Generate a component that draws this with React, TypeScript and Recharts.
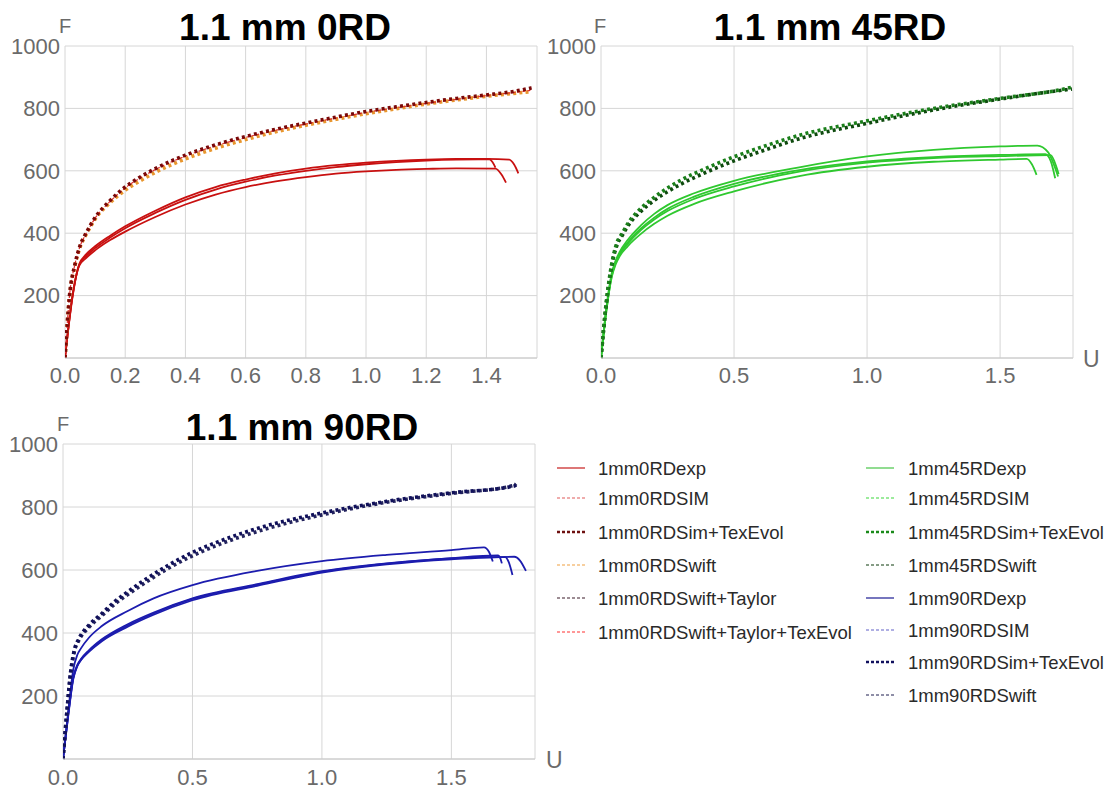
import React from "react";
import { LineChart, Line, XAxis, YAxis, CartesianGrid } from "recharts";

// ---- 1.1 mm 0RD ----
const u0A = [0, 0.025, 0.047, 0.07, 0.1, 0.15, 0.2, 0.3, 0.4, 0.5, 0.6, 0.7, 0.8, 0.9, 1.0, 1.1, 1.2, 1.3, 1.4, 1.476, 1.492, 1.506];
const f0A = [0, 200, 300, 332, 358, 392, 422, 472, 515, 548, 572, 592, 607, 618, 626, 632, 636, 638, 638, 636, 620, 592];
const u0B = [0, 0.025, 0.047, 0.07, 0.1, 0.15, 0.2, 0.3, 0.4, 0.5, 0.6, 0.7, 0.8, 0.9, 1.0, 1.1, 1.2, 1.3, 1.41, 1.42, 1.43];
const f0B = [0, 195, 298, 326, 352, 386, 416, 465, 507, 540, 565, 585, 600, 612, 621, 628, 633, 636, 637, 628, 610];
const u0C = [0, 0.025, 0.047, 0.07, 0.1, 0.15, 0.2, 0.3, 0.4, 0.5, 0.6, 0.7, 0.8, 0.9, 1.0, 1.1, 1.2, 1.3, 1.43, 1.45, 1.465];
const f0C = [0, 200, 295, 320, 345, 378, 405, 452, 492, 524, 548, 566, 580, 591, 598, 603, 606, 608, 607, 588, 562];
const u0S = [0, 0.015, 0.033, 0.05, 0.07, 0.1, 0.15, 0.2, 0.25, 0.3, 0.4, 0.5, 0.6, 0.7, 0.8, 0.9, 1.0, 1.1, 1.2, 1.3, 1.4, 1.5, 1.55];
const f0Sim = [0, 200, 300, 358, 398, 448, 502, 545, 577, 604, 647, 680, 707, 730, 750, 769, 787, 802, 816, 829, 841, 852, 858];
const f0TexEvol = [0, 200, 300, 360, 400, 450, 505, 548, 580, 607, 650, 683, 710, 733, 753, 772, 790, 805, 819, 832, 843, 856, 866];
const f0Swift = [0, 195, 295, 355, 395, 445, 498, 538, 568, 595, 638, 672, 700, 725, 746, 765, 783, 799, 814, 827, 839, 849, 854];

// ---- 1.1 mm 45RD ----
const u45Head = [0, 0.02, 0.04, 0.055, 0.07, 0.1, 0.15, 0.2, 0.25, 0.35, 0.5, 0.75, 1.0, 1.25, 1.5];
const u45A = [...u45Head, 1.64, 1.68, 1.718];
const f45A = [0, 160, 270, 312, 340, 378, 425, 462, 490, 528, 568, 612, 646, 667, 678, 681, 660, 582];
const u45B = [...u45Head, 1.67, 1.69, 1.707];
const f45B = [0, 155, 265, 308, 335, 370, 415, 450, 478, 517, 558, 603, 630, 644, 651, 653, 632, 576];
const u45C = [...u45Head, 1.69, 1.705, 1.72];
const f45C = [0, 150, 262, 305, 332, 366, 410, 444, 471, 510, 550, 598, 626, 641, 647, 650, 628, 590];
const u45D = [...u45Head, 1.6, 1.62, 1.637];
const f45D = [0, 150, 258, 300, 326, 358, 398, 430, 456, 494, 534, 584, 613, 629, 636, 638, 620, 587];
const u45S = [0, 0.02, 0.04, 0.06, 0.08, 0.1, 0.15, 0.2, 0.25, 0.3, 0.4, 0.5, 0.6, 0.75, 1.0, 1.25, 1.5, 1.75, 1.77];
const f45TexEvol = [0, 180, 300, 370, 400, 430, 480, 515, 545, 570, 610, 645, 675, 715, 760, 800, 832, 864, 868];
const f45Swift = [0, 175, 295, 362, 393, 422, 470, 505, 533, 557, 597, 632, 662, 704, 752, 795, 830, 860, 862];

// ---- 1.1 mm 90RD ----
const u90Head = [0, 0.02, 0.04, 0.055, 0.07, 0.1, 0.15, 0.25, 0.35, 0.5, 0.75, 1.0, 1.25, 1.5];
const u90A = [...u90Head, 1.626, 1.645, 1.66];
const f90A = [0, 150, 285, 330, 352, 385, 422, 470, 510, 552, 597, 628, 648, 663, 672, 658, 627];
const u90B = [...u90Head, 1.708, 1.722, 1.736];
const f90B = [0, 140, 260, 298, 318, 345, 380, 428, 465, 510, 555, 596, 621, 637, 641, 624, 584];
const u90C = [...u90Head, 1.743, 1.765, 1.788];
const f90C = [0, 135, 255, 294, 314, 340, 374, 420, 458, 504, 550, 592, 618, 634, 642, 630, 597];
const u90D = [...u90Head, 1.68, 1.69, 1.695];
const f90D = [0, 140, 258, 296, 316, 343, 377, 424, 462, 508, 553, 594, 620, 638, 646, 635, 621];
const u90S = [0, 0.015, 0.03, 0.045, 0.06, 0.1, 0.15, 0.2, 0.25, 0.3, 0.4, 0.5, 0.6, 0.75, 1.0, 1.25, 1.5, 1.74, 1.75];
const f90TexEvol = [0, 150, 280, 350, 380, 425, 462, 500, 531, 560, 612, 656, 690, 732, 781, 818, 845, 866, 870];
const f90Swift = [0, 148, 275, 345, 375, 418, 455, 492, 522, 550, 602, 645, 680, 722, 775, 815, 843, 868, 874];

// axes
const yTicks = [0, 200, 400, 600, 800, 1000];
const xTicks0 = [0, 0.2, 0.4, 0.6, 0.8, 1.0, 1.2, 1.4];
const xTicksHalf = [0, 0.5, 1.0, 1.5];

const legendLeft = ["1mm0RDexp", "1mm0RDSIM", "1mm0RDSim+TexEvol", "1mm0RDSwift", "1mm0RDSwift+Taylor", "1mm0RDSwift+Taylor+TexEvol"];
const legendRight = ["1mm45RDexp", "1mm45RDSIM", "1mm45RDSim+TexEvol", "1mm45RDSwift", "1mm90RDexp", "1mm90RDSIM", "1mm90RDSim+TexEvol", "1mm90RDSwift"];

const RED = "#c81010";
const GREEN = "#2fc82f";
const BLUE = "#1c1cae";
const GRID = "#d6d6d6";
const TICK = "#6a6a6a";
const FONT = "'Liberation Sans', Arial, sans-serif";

type Style = { color: string; width: number; dash?: string };
type Series = { name: string; u: number[]; f: number[]; style: Style };

const EXP = (c: string): Style => ({ color: c, width: 1.8 });
const THIN = (c: string): Style => ({ color: c, width: 1.2, dash: "3 2" });
const THICK = (c: string): Style => ({ color: c, width: 3.6, dash: "3 3.2" });

const pts = (u: number[], f: number[]) => u.map((x, i) => ({ u: x, F: f[i] }));

const panel0: Series[] = [
  { name: "0A", u: u0A, f: f0A, style: EXP(RED) },
  { name: "0B", u: u0B, f: f0B, style: EXP(RED) },
  { name: "0C", u: u0C, f: f0C, style: EXP(RED) },
  { name: "0Swift", u: u0S, f: f0Swift, style: THICK("#e8962e") },
  { name: "0Sim", u: u0S, f: f0Sim, style: THIN("#e03030") },
  { name: "0TexEvol", u: u0S, f: f0TexEvol, style: THICK("#7a0808") },
];
const panel45: Series[] = [
  { name: "45A", u: u45A, f: f45A, style: EXP(GREEN) },
  { name: "45B", u: u45B, f: f45B, style: EXP(GREEN) },
  { name: "45C", u: u45C, f: f45C, style: EXP(GREEN) },
  { name: "45D", u: u45D, f: f45D, style: EXP(GREEN) },
  { name: "45Swift", u: u45S, f: f45Swift, style: THICK("#0e4a0e") },
  { name: "45TexEvol", u: u45S, f: f45TexEvol, style: THICK("#1a7f1a") },
];
const panel90: Series[] = [
  { name: "90A", u: u90A, f: f90A, style: EXP(BLUE) },
  { name: "90B", u: u90B, f: f90B, style: EXP(BLUE) },
  { name: "90C", u: u90C, f: f90C, style: EXP(BLUE) },
  { name: "90D", u: u90D, f: f90D, style: EXP(BLUE) },
  { name: "90Swift", u: u90S, f: f90Swift, style: THICK("#24245e") },
  { name: "90TexEvol", u: u90S, f: f90TexEvol, style: THICK("#10105a") },
];

const legendStyles: Style[] = [
  { color: "#d24a4a", width: 1.5 },
  THIN("#e05a5a"),
  { color: "#6e1010", width: 2.4, dash: "3 2" },
  THIN("#f0a040"),
  THIN("#3a1a28"),
  THIN("#ff3030"),
];
const legendStylesRight: Style[] = [
  { color: "#6cd06c", width: 1.5 },
  THIN("#3ad83a"),
  { color: "#1a8a1a", width: 2.4, dash: "3 2" },
  THIN("#0d3a0d"),
  { color: "#4848a8", width: 1.5 },
  THIN("#6060c8"),
  { color: "#10105e", width: 2.4, dash: "3 2" },
  THIN("#1e1e50"),
];
const rowsLeft = [468, 498, 532, 565, 598, 632];
const rowsRight = [468, 498, 532, 565, 598, 630, 662, 695];

function Panel(props: {
  left: number;
  top: number;
  height: number;
  yWidth: number;
  xMax: number;
  xTicks: number[];
  series: Series[];
  tickGap: number;
}) {
  const { left, top, height, yWidth, xMax, xTicks, series, tickGap } = props;
  return (
    <div style={{ position: "absolute", left, top }}>
      <LineChart width={yWidth + 480} height={height} margin={{ top: 46, right: 8, bottom: 0, left: 0 }}>
        <CartesianGrid stroke={GRID} strokeWidth={1} />
        <XAxis
          type="number"
          dataKey="u"
          domain={[0, xMax]}
          ticks={xTicks}
          allowDataOverflow
          height={30}
          tickLine={false}
          tickSize={6}
          tickMargin={tickGap}
          axisLine={{ stroke: "#c8c8c8" }}
          tick={{ fill: TICK, fontSize: 22, fontFamily: FONT }}
          tickFormatter={(v: number) => v.toFixed(1)}
        />
        <YAxis
          type="number"
          dataKey="F"
          domain={[0, 1000]}
          ticks={yTicks}
          width={yWidth}
          tickLine={false}
          axisLine={false}
          tickSize={0}
          tickMargin={5}
          tick={{ fill: TICK, fontSize: 22, fontFamily: FONT }}
          tickFormatter={(v: number) => (v === 0 ? "" : String(v))}
        />
        {series.map((s) => (
          <Line
            key={s.name}
            data={pts(s.u, s.f)}
            dataKey="F"
            type="monotone"
            stroke={s.style.color}
            strokeWidth={s.style.width}
            strokeDasharray={s.style.dash}
            dot={false}
            activeDot={false}
            isAnimationActive={false}
          />
        ))}
      </LineChart>
    </div>
  );
}

export default function App() {
  return (
    <div
      style={{
        position: "absolute",
        left: 0,
        top: 0,
        width: 1112,
        height: 789,
        overflow: "hidden",
        background: "#fff",
      }}
    >
      <Panel left={0} top={0} height={388} yWidth={65} xMax={1.568} xTicks={xTicks0} series={panel0} tickGap={3} />
      <Panel left={536} top={0} height={388} yWidth={65} xMax={1.774} xTicks={xTicksHalf} series={panel45} tickGap={3} />
      <Panel left={0} top={398} height={391} yWidth={63} xMax={1.823} xTicks={xTicksHalf} series={panel90} tickGap={4} />

      <svg width={1112} height={789} style={{ position: "absolute", left: 0, top: 0, pointerEvents: "none" }}>
        <g fontFamily={FONT} fontWeight="bold" fontSize={37} fill="#000" textAnchor="middle">
          <text x={285} y={40}>1.1 mm 0RD</text>
          <text x={830} y={40}>1.1 mm 45RD</text>
          <text x={302} y={440}>1.1 mm 90RD</text>
        </g>
        <g fontFamily={FONT} fill={TICK}>
          <text x={59} y={33} fontSize={20}>F</text>
          <text x={594} y={33} fontSize={20}>F</text>
          <text x={57} y={431} fontSize={20}>F</text>
          <text x={1083} y={367} fontSize={23}>U</text>
          <text x={546} y={768} fontSize={23}>U</text>
        </g>
        <g fontFamily={FONT} fontSize={18.5} fill="#2a2a2a">
          {legendLeft.map((label, i) => (
            <g key={label}>
              <line
                x1={557}
                x2={585}
                y1={rowsLeft[i]}
                y2={rowsLeft[i]}
                stroke={legendStyles[i].color}
                strokeWidth={legendStyles[i].width}
                strokeDasharray={legendStyles[i].dash}
              />
              <text x={598} y={rowsLeft[i] + 6.5}>{label}</text>
            </g>
          ))}
          {legendRight.map((label, i) => (
            <g key={label}>
              <line
                x1={866}
                x2={894}
                y1={rowsRight[i]}
                y2={rowsRight[i]}
                stroke={legendStylesRight[i].color}
                strokeWidth={legendStylesRight[i].width}
                strokeDasharray={legendStylesRight[i].dash}
              />
              <text x={908} y={rowsRight[i] + 6.5}>{label}</text>
            </g>
          ))}
        </g>
      </svg>
    </div>
  );
}
